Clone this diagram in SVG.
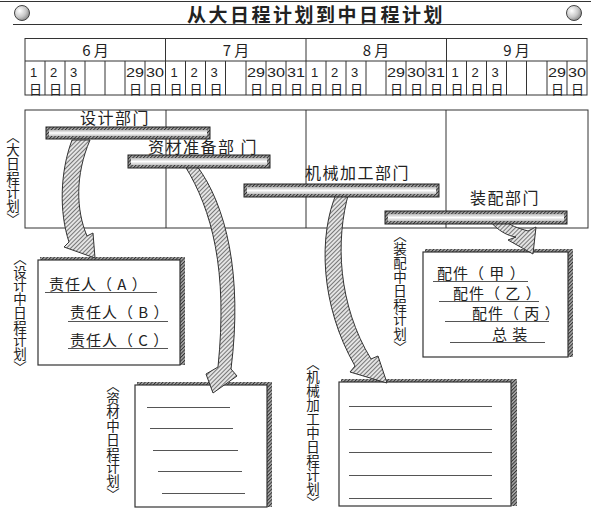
<svg xmlns="http://www.w3.org/2000/svg" width="591" height="512" viewBox="0 0 591 512">
<defs>
<style>
.t{font-family:"Noto Sans CJK SC","Noto Sans",sans-serif;fill:#222}
.cell{fill:#222}
.n{font-family:"Liberation Sans",Arial,sans-serif;font-size:13px}
.d{font-family:"Noto Sans CJK SC",sans-serif;font-size:13px}
.vl{font-family:"Noto Sans CJK SC",sans-serif;font-size:13.5px;fill:#222;writing-mode:vertical-rl}
.ln{stroke:#333;stroke-width:1;fill:none}
.ul{stroke:#555;stroke-width:1;fill:none}
.box{fill:#fff;stroke:#333;stroke-width:1.2}
.sh{fill:url(#hatchD);stroke:none}
.barO{fill:url(#hatchD);stroke:#222;stroke-width:1}
.barI{fill:url(#barG);stroke:none}
.arr{fill:url(#hatchL);stroke:#333;stroke-width:1;stroke-linejoin:round}
.bl{font-size:16px;letter-spacing:1.5px}
.bx{font-size:15px;letter-spacing:1px}
</style>
<pattern id="hatchL" width="3" height="3" patternUnits="userSpaceOnUse" patternTransform="rotate(45)">
<rect width="3" height="3" fill="#e4e4e4"/><line x1="0.5" y1="0" x2="0.5" y2="3" stroke="#777" stroke-width="1"/>
</pattern>
<pattern id="hatchD" width="2.5" height="2.5" patternUnits="userSpaceOnUse" patternTransform="rotate(45)">
<rect width="2.5" height="2.5" fill="#aaa"/><line x1="0.5" y1="0" x2="0.5" y2="2.5" stroke="#333" stroke-width="1"/>
</pattern>
<linearGradient id="barG" x1="0" y1="0" x2="0" y2="1">
<stop offset="0" stop-color="#b8b8b8"/><stop offset="0.5" stop-color="#fff"/><stop offset="1" stop-color="#c4c4c4"/>
</linearGradient>
<radialGradient id="ball" cx="0.35" cy="0.35" r="0.7">
<stop offset="0" stop-color="#fff"/><stop offset="0.6" stop-color="#c8c8c8"/><stop offset="1" stop-color="#888"/>
</radialGradient>
</defs>
<rect width="591" height="512" fill="#fff"/>

<g id="title">
<line class="ln" x1="0" y1="1.5" x2="591" y2="1.5" stroke-width="1.5"/>
<line class="ln" x1="13" y1="24.5" x2="582" y2="24.5" stroke-width="1.5"/>
<circle cx="22" cy="13" r="7.5" fill="url(#ball)" stroke="#444" stroke-width="1"/>
<circle cx="574" cy="13" r="7.5" fill="url(#ball)" stroke="#444" stroke-width="1"/>
<text class="t" x="316" y="22" font-size="19" font-weight="bold" letter-spacing="2.5" text-anchor="middle">从大日程计划到中日程计划</text>
</g>

<g id="calendar">
<rect x="25" y="38.5" width="562" height="56.5" fill="none" stroke="#333" stroke-width="1"/>
<line class="ln" x1="25" y1="61" x2="587" y2="61"/>
<path class="ln" d="M165.5,38.5V95M306,38.5V95M446.5,38.5V95"/>
<path class="ln" d="M45,61V95M65,61V95M85,61V95M105,61V95M125,61V95M145,61V95M185.5,61V95M205.5,61V95M225.5,61V95M246,61V95M266,61V95M286,61V95M326,61V95M346,61V95M366,61V95M386,61V95M406,61V95M426,61V95M466.5,61V95M486.5,61V95M506.5,61V95M526.5,61V95M547,61V95M567,61V95"/>
<text class="t" font-size="15" text-anchor="middle" x="95.5" y="56">6 月</text>
<text class="t" font-size="15" text-anchor="middle" x="236" y="56">7 月</text>
<text class="t" font-size="15" text-anchor="middle" x="376" y="56">8 月</text>
<text class="t" font-size="15" text-anchor="middle" x="516.5" y="56">9 月</text>
<g class="cell">
<text><tspan class="n" x="30" y="76.5">1</tspan><tspan class="d" x="29" y="94">日</tspan></text>
<text><tspan class="n" x="50" y="76.5">2</tspan><tspan class="d" x="49" y="94">日</tspan></text>
<text><tspan class="n" x="70" y="76.5">3</tspan><tspan class="d" x="69" y="94">日</tspan></text>
<text><tspan class="n" x="126" y="76.5" textLength="18" lengthAdjust="spacingAndGlyphs">29</tspan><tspan class="d" x="129" y="94">日</tspan></text>
<text><tspan class="n" x="146" y="76.5" textLength="18" lengthAdjust="spacingAndGlyphs">30</tspan><tspan class="d" x="149" y="94">日</tspan></text>
<text><tspan class="n" x="170.5" y="76.5">1</tspan><tspan class="d" x="169.5" y="94">日</tspan></text>
<text><tspan class="n" x="190.5" y="76.5">2</tspan><tspan class="d" x="189.5" y="94">日</tspan></text>
<text><tspan class="n" x="210.5" y="76.5">3</tspan><tspan class="d" x="209.5" y="94">日</tspan></text>
<text><tspan class="n" x="247" y="76.5" textLength="18" lengthAdjust="spacingAndGlyphs">29</tspan><tspan class="d" x="250" y="94">日</tspan></text>
<text><tspan class="n" x="267" y="76.5" textLength="18" lengthAdjust="spacingAndGlyphs">30</tspan><tspan class="d" x="270" y="94">日</tspan></text>
<text><tspan class="n" x="287" y="76.5" textLength="18" lengthAdjust="spacingAndGlyphs">31</tspan><tspan class="d" x="290" y="94">日</tspan></text>
<text><tspan class="n" x="311" y="76.5">1</tspan><tspan class="d" x="310" y="94">日</tspan></text>
<text><tspan class="n" x="331" y="76.5">2</tspan><tspan class="d" x="330" y="94">日</tspan></text>
<text><tspan class="n" x="351" y="76.5">3</tspan><tspan class="d" x="350" y="94">日</tspan></text>
<text><tspan class="n" x="387" y="76.5" textLength="18" lengthAdjust="spacingAndGlyphs">29</tspan><tspan class="d" x="390" y="94">日</tspan></text>
<text><tspan class="n" x="407" y="76.5" textLength="18" lengthAdjust="spacingAndGlyphs">30</tspan><tspan class="d" x="410" y="94">日</tspan></text>
<text><tspan class="n" x="427" y="76.5" textLength="18" lengthAdjust="spacingAndGlyphs">31</tspan><tspan class="d" x="430" y="94">日</tspan></text>
<text><tspan class="n" x="451.5" y="76.5">1</tspan><tspan class="d" x="450.5" y="94">日</tspan></text>
<text><tspan class="n" x="471.5" y="76.5">2</tspan><tspan class="d" x="470.5" y="94">日</tspan></text>
<text><tspan class="n" x="491.5" y="76.5">3</tspan><tspan class="d" x="490.5" y="94">日</tspan></text>
<text><tspan class="n" x="548" y="76.5" textLength="18" lengthAdjust="spacingAndGlyphs">29</tspan><tspan class="d" x="551" y="94">日</tspan></text>
<text><tspan class="n" x="568" y="76.5" textLength="18" lengthAdjust="spacingAndGlyphs">30</tspan><tspan class="d" x="571" y="94">日</tspan></text>
</g>
</g>

<g id="gantt-frame">
<rect x="25" y="110" width="563" height="118" fill="none" stroke="#333" stroke-width="1"/>
<path class="ln" d="M166,110V228M306,110V228M446,110V228"/>
</g>

<g id="label-big">
<text class="vl" x="13" y="129" letter-spacing="0.5">〈大日程计划〉</text>
</g>

<g id="box-design">
<rect class="sh" x="40" y="257" width="145" height="3"/>
<rect class="sh" x="180" y="258" width="5" height="107"/>
<rect class="box" x="38" y="260" width="142" height="105"/>
<text class="t bx" x="49" y="290">责任人（ A ）</text>
<line class="ul" x1="45" y1="292.5" x2="157" y2="292.5"/>
<text class="t bx" x="70" y="318">责任人（ B ）</text>
<line class="ul" x1="68" y1="321.5" x2="168" y2="321.5"/>
<text class="t bx" x="70" y="346">责任人（ C ）</text>
<line class="ul" x1="68" y1="348.5" x2="168" y2="348.5"/>
<text class="vl" x="20" y="251" letter-spacing="0.25">〈设计中日程计划〉</text>
</g>

<g id="box-assembly">
<rect class="sh" x="425" y="249" width="148" height="3"/>
<rect class="sh" x="568" y="250" width="5" height="107"/>
<rect class="box" x="423" y="252" width="145" height="105"/>
<text class="t bx" x="437" y="279">配件（ 甲 ）</text>
<line class="ul" x1="433" y1="281.5" x2="528" y2="281.5"/>
<text class="t bx" x="453" y="299">配件（ 乙 ）</text>
<line class="ul" x1="439" y1="301.5" x2="539" y2="301.5"/>
<text class="t bx" x="472" y="319">配件（ 丙 ）</text>
<line class="ul" x1="445" y1="321.5" x2="549" y2="321.5"/>
<text class="t bx" x="492" y="340" letter-spacing="2">总 装</text>
<line class="ul" x1="450" y1="342.5" x2="545" y2="342.5"/>
<text class="vl" x="400" y="228" letter-spacing="0.6">〈装配中日程计划〉</text>
</g>

<g id="box-material">
<rect class="sh" x="137" y="382" width="135" height="3"/>
<rect class="sh" x="267" y="383" width="5" height="124"/>
<rect class="box" x="135" y="385" width="132" height="122"/>
<line class="ul" x1="147" y1="407.5" x2="230" y2="407.5"/>
<line class="ul" x1="150" y1="428.5" x2="233" y2="428.5"/>
<line class="ul" x1="153" y1="450.5" x2="238" y2="450.5"/>
<line class="ul" x1="158" y1="471.5" x2="242" y2="471.5"/>
<line class="ul" x1="162" y1="493.5" x2="245" y2="493.5"/>
<text class="vl" x="113" y="378" letter-spacing="0.25">〈资材中日程计划〉</text>
</g>

<g id="box-machining">
<rect class="sh" x="341" y="379" width="176" height="3"/>
<rect class="sh" x="511" y="380" width="6" height="126"/>
<rect class="box" x="339" y="382" width="172" height="124"/>
<line class="ul" x1="349" y1="406.5" x2="492" y2="406.5"/>
<line class="ul" x1="349" y1="429.5" x2="492" y2="429.5"/>
<line class="ul" x1="349" y1="452.5" x2="492" y2="452.5"/>
<line class="ul" x1="349" y1="475.5" x2="492" y2="475.5"/>
<line class="ul" x1="349" y1="498.5" x2="492" y2="498.5"/>
<text class="vl" x="313" y="356" letter-spacing="0.5">〈机械加工中日程计划〉</text>
</g>

<g id="connectors">
<path class="arr" d="M72,140 C60,172 59,212 69,242 L64,247 L95,258 L93,233 L87,236 C76,210 75,175 90,140 Z"/>
<path class="arr" d="M185,166 C212,210 228,270 218,367 L206,374 L213,393 L237,376 L231,369 C243,275 226,205 197,166 Z"/>
<path class="arr" d="M337,192 C318,235 320,305 355,366 L350,372 L387,383 L378,356 L371,359 C338,305 335,240 349,192 Z"/>
<path class="arr" d="M489,220 C498,231 508,236 516,237 L508,240 L533,254 L536,227 L528,231 C518,228 510,226 505,220 Z"/>
</g>

<g id="bar-design">
<rect class="barO" x="46" y="127" width="164" height="12"/>
<rect class="barI" x="49" y="130" width="158" height="6"/>
<text class="t bl" x="80" y="124">设计部门</text>
</g>
<g id="bar-material">
<rect class="barO" x="128" y="155" width="142" height="13"/>
<rect class="barI" x="131" y="158" width="136" height="7"/>
<text class="t bl" x="148" y="153">资材准备部 门</text>
</g>
<g id="bar-machining">
<rect class="barO" x="244" y="184" width="195" height="13"/>
<rect class="barI" x="247" y="187" width="189" height="7"/>
<text class="t bl" x="305" y="179">机械加工部门</text>
</g>
<g id="bar-assembly">
<rect class="barO" x="385" y="211" width="182" height="13"/>
<rect class="barI" x="388" y="214" width="176" height="7"/>
<text class="t bl" x="470" y="204">装配部门</text>
</g>
</svg>
